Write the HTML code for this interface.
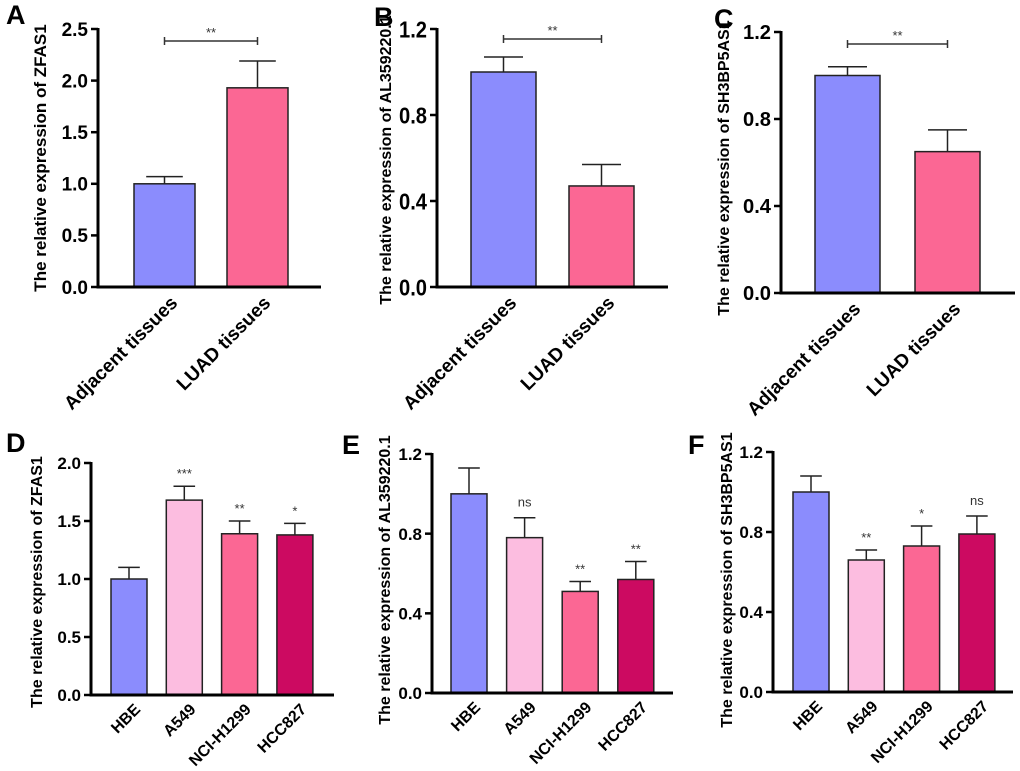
<!DOCTYPE html>
<html><head><meta charset="utf-8">
<style>
html,body{margin:0;padding:0;background:#fff;}
svg{display:block;font-family:"Liberation Sans",Arial,sans-serif;}
</style></head>
<body>
<svg id="fig" width="1020" height="771" viewBox="0 0 1020 771"></svg>
<script>
// ---- data ----
const catsTissue = ["Adjacent tissues","LUAD tissues"];
const catsCell = ["HBE","A549","NCI-H1299","HCC827"];
const valsA = [1.00, 1.93];
const errsA = [1.07, 2.19];
const valsB = [1.00, 0.47];
const errsB = [1.07, 0.57];
const valsC = [1.00, 0.65];
const errsC = [1.04, 0.75];
const valsD = [1.00, 1.68, 1.39, 1.38];
const errsD = [1.10, 1.80, 1.50, 1.48];
const sigD = ["", "***", "**", "*"];
const valsE = [1.00, 0.78, 0.51, 0.57];
const errsE = [1.13, 0.88, 0.56, 0.66];
const sigE = ["", "ns", "**", "**"];
const valsF = [1.00, 0.66, 0.73, 0.79];
const errsF = [1.08, 0.71, 0.83, 0.88];
const sigF = ["", "**", "*", "ns"];
const ticksA = [0, 0.5, 1.0, 1.5, 2.0, 2.5];
const ticksD = [0, 0.5, 1.0, 1.5, 2.0];
const ticks12 = [0, 0.4, 0.8, 1.2];

const NS = "http://www.w3.org/2000/svg";
const svg = document.getElementById("fig");
function mk(tag, attrs, parent){
  const e = document.createElementNS(NS, tag);
  for (const k in attrs) e.setAttribute(k, attrs[k]);
  (parent||svg).appendChild(e);
  return e;
}
const colsT = ["#8b8cfd","#fb6794"];
const colsC = ["#8b8cfd","#fcbde0","#fb6794","#cc0a61"];

function panel(p){
  const g = mk("g", {});
  
  
  const yMax = p.ticks[p.ticks.length-1];
  const y = v => p.y0 - (v / yMax) * (p.y0 - p.yTop);
  const n = p.cats.length;
  const bw = p.bw;
  const center = i => p.bx0 + bw/2 + i * p.step;

  const L = mk("text", {x:p.lx, y:p.ly, "font-size":27, "font-weight":"bold", fill:"#000"}, g);
  L.textContent = p.letter;
  
  

  for (let i=0;i<n;i++){
    const cx = center(i);
    const top = y(p.vals[i]);
    const r = mk("rect", {x:cx-bw/2, y:top, width:bw, height:p.y0-top, fill:p.cols[i], stroke:"#222", "stroke-width":1.5}, g);
    
    
    const et = y(p.errs[i]);
    const e1 = mk("line", {x1:cx, x2:cx, y1:top, y2:et, stroke:"#222", "stroke-width":1.5}, g);
    
    
    const e2 = mk("line", {x1:cx-bw*0.3, x2:cx+bw*0.3, y1:et, y2:et, stroke:"#222", "stroke-width":1.5}, g);
    
    
    if (p.sig && p.sig[i]){
      const s = mk("text", {x:cx, y:et-(p.sig[i]==="ns"?11:8), "font-size":13, "text-anchor":"middle", fill:"#333"}, g);
      s.textContent = p.sig[i];
      
      
    }
    const lx = cx + 5, ly = p.y0 + 8;
    const t = mk("text", {x:lx, y:ly, "font-size":p.xfs, "font-weight":"bold", "text-anchor":"end", "dominant-baseline":"hanging", transform:`rotate(-45 ${lx} ${ly})`, fill:"#000"}, g);
    t.textContent = p.cats[i];
    
    
  }

  const ya = mk("line", {x1:p.ax, x2:p.ax, y1:p.yTop-1, y2:p.y0+1.5, stroke:"#000", "stroke-width":3}, g);
  
  
  const xa = mk("line", {x1:p.ax-1.5, x2:p.xEnd, y1:p.y0, y2:p.y0, stroke:"#000", "stroke-width":3}, g);
  
  
  for (const tv of p.ticks){
    const ty = y(tv);
    const tl = mk("line", {x1:p.ax-7, x2:p.ax, y1:ty, y2:ty, stroke:"#000", "stroke-width":2.5}, g);
    
    
    const attrs = {x:p.ax-10, y:ty+p.yfs*0.36, "font-size":p.yfs, "font-weight":"bold", "text-anchor":"end", fill:"#000"};
    if (p.tlen){ attrs.textLength = p.tlen; attrs.lengthAdjust = "spacingAndGlyphs"; }
    const tt = mk("text", attrs, g);
    tt.textContent = tv.toFixed(1);
    
    
  }
  const yt = mk("text", {x:p.ytx, y:p.yty, "font-size":p.ytfs, "font-weight":"bold", "text-anchor":"middle", transform:`rotate(-90 ${p.ytx} ${p.yty})`, fill:"#000"}, g);
  yt.textContent = p.ytitle;
  
  

  if (p.bracket){
    const by = p.bracket.y, c0 = center(0), c1 = center(1);
    const bl = mk("line", {x1:c0, x2:c1, y1:by, y2:by, stroke:"#333", "stroke-width":1.5}, g);
    
    
    for (const xx of [c0,c1]){
      const tk = mk("line", {x1:xx, x2:xx, y1:by-4, y2:by+4, stroke:"#333", "stroke-width":1.5}, g);
      
      
    }
    const st = mk("text", {x:(c0+c1)/2, y:by-4, "font-size":13, "text-anchor":"middle", fill:"#333"}, g);
    st.textContent = "**";
    
    
  }
}

panel({letter:"A", lx:6, ly:24, cats:catsTissue, vals:valsA, errs:errsA, cols:colsT, ticks:ticksA,
  ax:98, y0:287, yTop:29, xEnd:321, bx0:134, bw:61, step:93, xfs:19, yfs:19,
  ytitle:"The relative expression of ZFAS1", ytx:46, yty:158, ytfs:17, bracket:{y:41}});
panel({letter:"B", lx:374, ly:26, cats:catsTissue, vals:valsB, errs:errsB, cols:colsT, ticks:ticks12,
  ax:437, y0:287, yTop:29, xEnd:668, bx0:471, bw:65, step:98, xfs:19, yfs:23, tlen:28,
  ytitle:"The relative expression of AL359220.1", ytx:391, yty:160, ytfs:16, bracket:{y:39}});
panel({letter:"C", lx:714, ly:28, cats:catsTissue, vals:valsC, errs:errsC, cols:colsT, ticks:ticks12,
  ax:781, y0:293, yTop:32, xEnd:1015, bx0:815, bw:65, step:100, xfs:19, yfs:20, tlen:28,
  ytitle:"The relative expression of SH3BP5AS1", ytx:729, yty:168, ytfs:16, bracket:{y:44}});
panel({letter:"D", lx:6, ly:452, cats:catsCell, vals:valsD, errs:errsD, cols:colsC, ticks:ticksD, sig:sigD,
  ax:91, y0:695, yTop:463, xEnd:334, bx0:111, bw:36, step:55.3, xfs:16, yfs:17,
  ytitle:"The relative expression of ZFAS1", ytx:42, yty:582, ytfs:16});
panel({letter:"E", lx:342, ly:454, cats:catsCell, vals:valsE, errs:errsE, cols:colsC, ticks:ticks12, sig:sigE,
  ax:432, y0:693, yTop:454, xEnd:673, bx0:451, bw:36, step:55.6, xfs:16, yfs:17,
  ytitle:"The relative expression of AL359220.1", ytx:390, yty:580, ytfs:16});
panel({letter:"F", lx:688, ly:454, cats:catsCell, vals:valsF, errs:errsF, cols:colsC, ticks:ticks12, sig:sigF,
  ax:773, y0:692, yTop:452, xEnd:1013, bx0:793, bw:36, step:55.3, xfs:16, yfs:17,
  ytitle:"The relative expression of SH3BP5AS1", ytx:732, yty:580, ytfs:16});
</script>
</body></html>
